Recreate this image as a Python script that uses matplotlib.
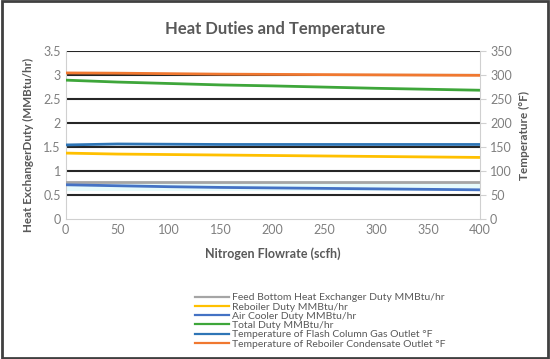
import numpy as np
import matplotlib.pyplot as plt

plt.rcParams['font.family'] = ['Lato', 'DejaVu Sans']

flow = [0, 50, 100, 150, 200, 250, 300, 350, 400]
feed_duty = [0.78, 0.78, 0.78, 0.78, 0.78, 0.78, 0.78, 0.78, 0.78]
reboiler_duty = [1.38, 1.36, 1.35, 1.34, 1.33, 1.32, 1.31, 1.30, 1.29]
cooler_duty = [0.72, 0.70, 0.68, 0.665, 0.655, 0.645, 0.635, 0.625, 0.615]
total_duty = [2.90, 2.86, 2.83, 2.80, 2.78, 2.755, 2.73, 2.71, 2.69]
flash_temp = [155, 157, 156.5, 156, 156, 156, 156, 156, 156]
cond_temp = [305, 304.5, 303.5, 302.5, 302, 301.5, 301, 300.5, 300]

labels = ['Feed Bottom Heat Exchanger Duty MMBtu/hr', 'Reboiler Duty MMBtu/hr',
          'Air Cooler Duty MMBtu/hr', 'Total Duty MMBtu/hr',
          'Temperature of Flash Column Gas Outlet \u00b0F',
          'Temperature of Reboiler Condensate Outlet \u00b0F']

tc = '#595959'
fig = plt.figure(figsize=(5.5, 3.59), dpi=100)
ax1 = fig.add_axes([0.1195, 0.389, 0.7525, 0.468])
ax2 = ax1.twinx()

# axes
ax1.set_xlim(0, 400)
ax1.set_ylim(0, 3.5)
ax1.set_yticks(np.arange(0, 3.51, 0.5))
ax1.set_yticklabels(['0', '0.5', '1', '1.5', '2', '2.5', '3', '3.5'])
ax1.set_xticks(np.arange(0, 401, 50))
ax2.set_ylim(0, 350)
ax2.set_yticks(np.arange(0, 351, 50))
for y in np.arange(0.5, 3.51, 0.5):
  ax1.axhline(y, color='#262626', lw=1.5, zorder=1)
ax1.axhspan(0.6, 0.78, color='#E6FAFC', zorder=0.5, lw=0)

l1, = ax1.plot(flow, feed_duty, color='#A5A5A5', lw=2, zorder=3)
l2, = ax1.plot(flow, reboiler_duty, color='#FFC000', lw=2, zorder=3)
l3, = ax1.plot(flow, cooler_duty, color='#4472C4', lw=2, zorder=3)
l4, = ax1.plot(flow, total_duty, color='#3EA63A', lw=2, zorder=3)
l5, = ax2.plot(flow, flash_temp, color='#2E75B6', lw=2, zorder=3)
l6, = ax2.plot(flow, cond_temp, color='#F07830', lw=2, zorder=3)

for ax in (ax1, ax2):
  for s in ax.spines.values():
    s.set_visible(False)
  ax.tick_params(colors='#7F7F7F', labelsize=9, length=0)
ax1.spines['left'].set_visible(True)
ax1.spines['left'].set_color('#D0D0D0')
ax1.spines['bottom'].set_visible(True)
ax1.spines['bottom'].set_color('#D0D0D0')
ax2.spines['right'].set_visible(True)
ax2.spines['right'].set_color('#D0D0D0')
ax2.tick_params(axis='y', length=4, color='#D0D0D0')

ax1.set_ylabel('Heat ExchangerDuty (MMBtu/hr)', color=tc, fontsize=8.4, fontweight='bold')
ax1.yaxis.set_label_coords(-0.076, 0.44)
ax2.set_ylabel('Temperature (\u00b0F)', color=tc, fontsize=8.5, fontweight='bold', labelpad=5)
ax1.set_xlabel('Nitrogen Flowrate (scfh)', color=tc, fontsize=9, fontweight='bold', labelpad=8)
fig.text(0.5, 0.918, 'Heat Duties and Temperature', ha='center', va='center',
         color=tc, fontsize=12, fontweight='bold')

leg = fig.legend([l1, l2, l3, l4, l5, l6], labels, loc='upper left',
                 bbox_to_anchor=(0.355, 0.184), bbox_transform=fig.transFigure,
                 frameon=False, fontsize=7.5, handlelength=3.2, handletextpad=0.3,
                 labelspacing=0.0, borderpad=0, borderaxespad=0)
for t in leg.get_texts():
  t.set_color(tc)
for h in leg.get_lines():
  h.set_linewidth(1.6)

border = plt.Rectangle((0.003, 0.004), 0.994, 0.992, transform=fig.transFigure,
                       fill=False, edgecolor='#404040', lw=2)
fig.patches.append(border)

fig.savefig('out.png', dpi=100)
